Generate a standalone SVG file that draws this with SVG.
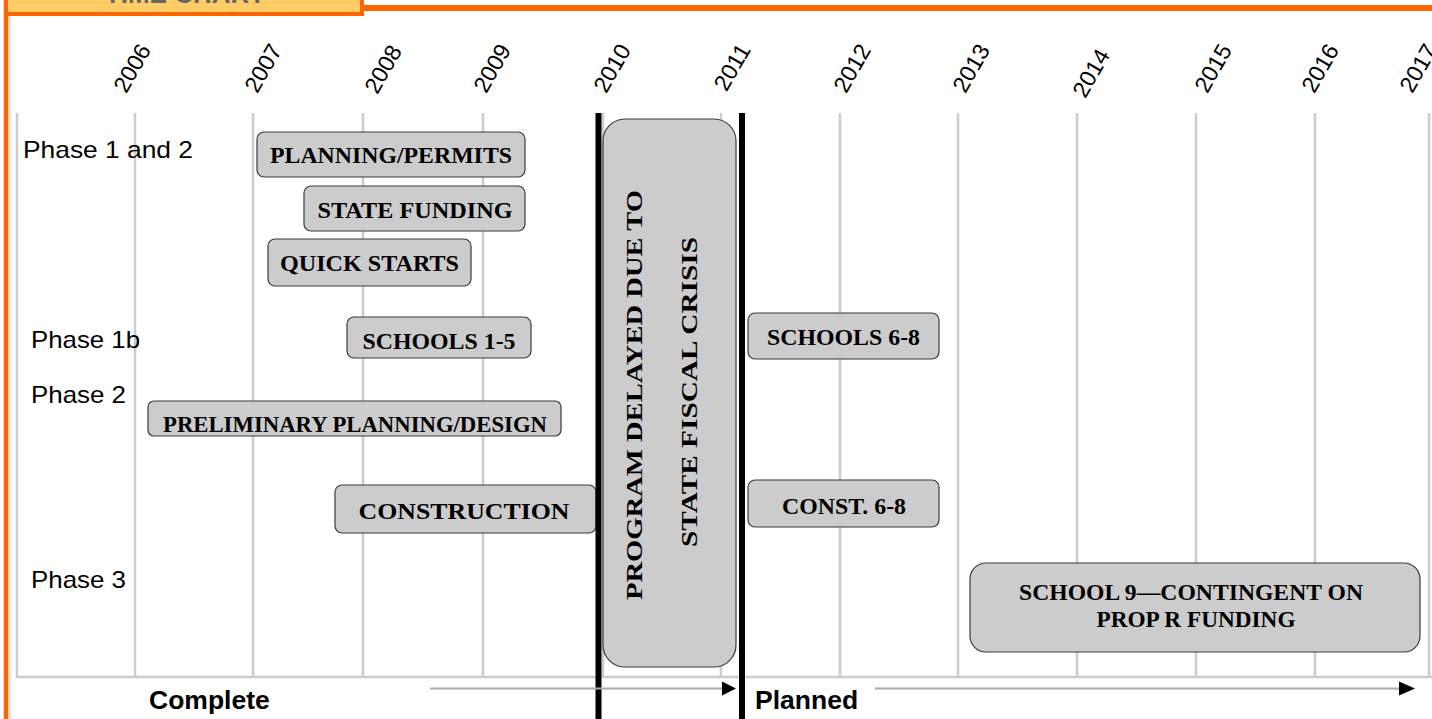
<svg xmlns="http://www.w3.org/2000/svg" width="1432" height="719" viewBox="0 0 1432 719">
<style>
.grid{stroke:#cccccc;stroke-width:2.5;fill:none}
.bar{fill:#cccccc;stroke:#3a3a3a;stroke-width:1.2}
.bt{font-family:"Liberation Serif","Times New Roman",serif;font-weight:bold;font-size:24px;fill:#000;text-anchor:middle}
.ph{font-family:"Liberation Sans",Arial,sans-serif;font-size:24px;fill:#000}
.yr{font-family:"Liberation Sans",Arial,sans-serif;font-size:23px;fill:#000;text-anchor:middle}
.st{font-family:"Liberation Sans",Arial,sans-serif;font-weight:bold;font-size:26.5px;fill:#000}
.ax{stroke:#aaaaaa;stroke-width:2}
.blk{stroke:#000;stroke-width:6}
</style>
<rect x="0" y="0" width="1432" height="719" fill="#ffffff"/>
<g id="frame">
<line x1="10" y1="16" x2="10" y2="719" stroke="#e6e6e6" stroke-width="3"/>
<line x1="362" y1="8" x2="1432" y2="8" stroke="#ff6600" stroke-width="6"/>
<line x1="6" y1="0" x2="6" y2="719" stroke="#ff6600" stroke-width="4.5"/>
<rect x="6" y="-20" width="356" height="34" fill="#ffcc66" stroke="#ff6600" stroke-width="4"/>
<text x="185" y="3" font-family="Liberation Sans,Arial,sans-serif" font-weight="bold" font-size="26" fill="#666666" text-anchor="middle">TIME CHART</text>
</g>
<g id="grid">
<line class="grid" x1="17" y1="113" x2="17" y2="677"/>
<line class="grid" x1="135" y1="113" x2="135" y2="677"/>
<line class="grid" x1="253" y1="113" x2="253" y2="677"/>
<line class="grid" x1="363" y1="113" x2="363" y2="677"/>
<line class="grid" x1="483" y1="113" x2="483" y2="677"/>
<line class="grid" x1="603" y1="113" x2="603" y2="677"/>
<line class="grid" x1="721" y1="113" x2="721" y2="677"/>
<line class="grid" x1="840" y1="113" x2="840" y2="677"/>
<line class="grid" x1="958" y1="113" x2="958" y2="677"/>
<line class="grid" x1="1077" y1="113" x2="1077" y2="677"/>
<line class="grid" x1="1196" y1="113" x2="1196" y2="677"/>
<line class="grid" x1="1315" y1="113" x2="1315" y2="677"/>
<line class="grid" x1="1429" y1="113" x2="1429" y2="677"/>
<line class="grid" x1="16" y1="677" x2="1432" y2="677"/>
</g>
<g id="years">
<text class="yr" transform="translate(132,68) rotate(-60)" y="8">2006</text>
<text class="yr" transform="translate(263,68) rotate(-60)" y="8">2007</text>
<text class="yr" transform="translate(383,69) rotate(-60)" y="8">2008</text>
<text class="yr" transform="translate(492,68) rotate(-60)" y="8">2009</text>
<text class="yr" transform="translate(612,68) rotate(-60)" y="8">2010</text>
<text class="yr" transform="translate(732,67) rotate(-60)" y="8">2011</text>
<text class="yr" transform="translate(852,68) rotate(-60)" y="8">2012</text>
<text class="yr" transform="translate(971,68) rotate(-60)" y="8">2013</text>
<text class="yr" transform="translate(1091,73) rotate(-60)" y="8">2014</text>
<text class="yr" transform="translate(1213,68) rotate(-60)" y="8">2015</text>
<text class="yr" transform="translate(1320,68) rotate(-60)" y="8">2016</text>
<text class="yr" transform="translate(1418,68) rotate(-60)" y="8">2017</text>
</g>
<g id="phases">
<text class="ph" x="23" y="158" textLength="170" lengthAdjust="spacingAndGlyphs">Phase 1 and 2</text>
<text class="ph" x="31" y="348" textLength="109" lengthAdjust="spacingAndGlyphs">Phase 1b</text>
<text class="ph" x="31" y="403" textLength="95" lengthAdjust="spacingAndGlyphs">Phase 2</text>
<text class="ph" x="31" y="588" textLength="95" lengthAdjust="spacingAndGlyphs">Phase 3</text>
</g>
<g id="node-planning-permits">
<rect class="bar" x="257" y="132" width="268" height="45" rx="7"/>
<text class="bt" x="391" y="163" textLength="242" lengthAdjust="spacingAndGlyphs">PLANNING/PERMITS</text>
</g>
<g id="node-state-funding">
<rect class="bar" x="304" y="186" width="221" height="45" rx="7"/>
<text class="bt" x="415" y="218" textLength="195" lengthAdjust="spacingAndGlyphs">STATE FUNDING</text>
</g>
<g id="node-quick-starts">
<rect class="bar" x="268" y="239" width="203" height="47" rx="7"/>
<text class="bt" x="369.5" y="271" textLength="179" lengthAdjust="spacingAndGlyphs">QUICK STARTS</text>
</g>
<g id="node-schools-1-5">
<rect class="bar" x="347" y="317" width="184" height="41" rx="7"/>
<text class="bt" x="439" y="349" textLength="153" lengthAdjust="spacingAndGlyphs">SCHOOLS 1-5</text>
</g>
<g id="node-preliminary">
<rect class="bar" x="148" y="401" width="413" height="35" rx="6"/>
<text class="bt" x="355" y="432" textLength="384" lengthAdjust="spacingAndGlyphs">PRELIMINARY PLANNING/DESIGN</text>
</g>
<g id="node-construction">
<rect class="bar" x="335" y="485" width="261" height="48" rx="7"/>
<text class="bt" x="464" y="519" font-size="27" textLength="211" lengthAdjust="spacingAndGlyphs">CONSTRUCTION</text>
</g>
<g id="node-delay">
<rect class="bar" x="603" y="119" width="133" height="548" rx="22"/>
<text class="bt" transform="translate(642,395) rotate(-90)" font-size="28.5" textLength="410" lengthAdjust="spacingAndGlyphs">PROGRAM DELAYED DUE TO</text>
<text class="bt" transform="translate(697,392) rotate(-90)" font-size="28.5" textLength="310" lengthAdjust="spacingAndGlyphs">STATE FISCAL CRISIS</text>
</g>
<g id="node-schools-6-8">
<rect class="bar" x="748" y="313" width="191" height="46" rx="7"/>
<text class="bt" x="843.5" y="345" textLength="153" lengthAdjust="spacingAndGlyphs">SCHOOLS 6-8</text>
</g>
<g id="node-const-6-8">
<rect class="bar" x="748" y="480" width="191" height="47" rx="7"/>
<text class="bt" x="844" y="514" font-size="26" textLength="124" lengthAdjust="spacingAndGlyphs">CONST. 6-8</text>
</g>
<g id="node-school-9">
<rect class="bar" x="970" y="563" width="450" height="89" rx="16"/>
<text class="bt" x="1191" y="600" textLength="344" lengthAdjust="spacingAndGlyphs">SCHOOL 9—CONTINGENT ON</text>
<text class="bt" x="1196" y="627" textLength="199" lengthAdjust="spacingAndGlyphs">PROP R FUNDING</text>
</g>
<g id="dividers">
<line class="blk" x1="598.5" y1="113" x2="598.5" y2="719"/>
<line class="blk" x1="742" y1="113" x2="742" y2="719"/>
</g>
<g id="connectors">
<line class="ax" x1="430" y1="688.5" x2="723" y2="688.5"/>
<polygon points="722,681.5 736,688.5 722,695.5" fill="#000"/>
<line class="ax" x1="875" y1="688.5" x2="1400" y2="688.5"/>
<polygon points="1399,681.5 1415,688.5 1399,695.5" fill="#000"/>
</g>
<g id="status">
<text class="st" x="149" y="709">Complete</text>
<text class="st" x="755" y="709">Planned</text>
</g>
</svg>
